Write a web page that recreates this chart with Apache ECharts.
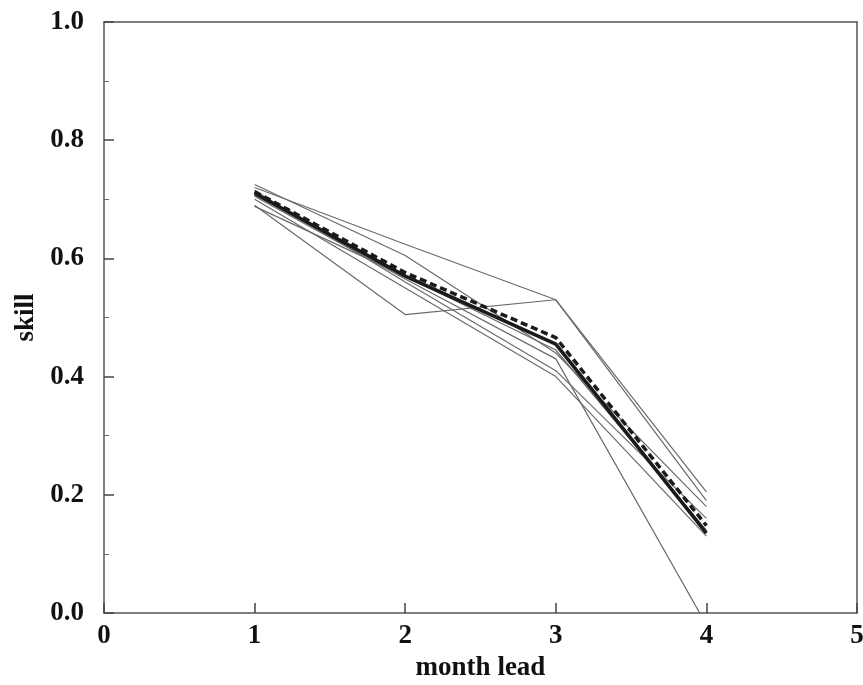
<!DOCTYPE html>
<html>
<head>
<meta charset="utf-8">
<script src="https://cdn.jsdelivr.net/npm/echarts@6/dist/echarts.min.js"></script>
<style>html,body{margin:0;padding:0;background:#fff}#c{width:863px;height:685px}</style>
</head>
<body>
<div id="c"></div>
<script>
var leads = [1, 2, 3, 4];
var xTicks = [0, 1, 2, 3, 4, 5];
var yTicks = [0.0, 0.2, 0.4, 0.6, 0.8, 1.0];
var member1 = [0.72, 0.624, 0.53, 0.205];
var member2 = [0.69, 0.505, 0.53, 0.19];
var member3 = [0.725, 0.605, 0.44, 0.18];
var member4 = [0.705, 0.565, 0.43, -0.02];
var member5 = [0.715, 0.56, 0.41, 0.16];
var member6 = [0.70, 0.55, 0.40, 0.13];
var member7 = [0.688, 0.57, 0.445, 0.14];
var ensembleMean = [0.71, 0.57, 0.455, 0.135];
var ensembleDashed = [0.713, 0.576, 0.466, 0.148];

var members = [member1, member2, member3, member4, member5, member6, member7];
function pts(arr){ return leads.map(function(x,i){ return [x, arr[i]]; }); }

var series = members.map(function(m){
  return {type:'line', data:pts(m), symbol:'none', animation:false,
    lineStyle:{color:'#6a6a6a', width:1.2}, z:2};
});
series.push({type:'line', data:pts(ensembleMean), symbol:'none', animation:false,
  lineStyle:{color:'#1a1a1a', width:3.5}, z:3});
series.push({type:'line', data:pts(ensembleDashed), symbol:'none', animation:false,
  lineStyle:{color:'#1a1a1a', width:3.5, type:[7,4]}, z:4});

var font = {fontFamily:'Liberation Serif, Times New Roman, serif', fontWeight:'bold', fontSize:27, color:'#111'};
var axLine = {show:true, onZero:false, lineStyle:{color:'#555', width:1.5}};

var chart = echarts.init(document.getElementById('c'));
chart.setOption({
  backgroundColor:'#fff',
  grid:{left:104, right:6, top:22, bottom:72, outerBoundsMode:'none', containLabel:false},
  xAxis:[{
    type:'value', min:xTicks[0], max:xTicks[xTicks.length-1], interval:1,
    name:'month lead', nameLocation:'middle', nameGap:42,
    nameTextStyle:font,
    axisLine:axLine, axisTick:{show:true, inside:true, length:10, lineStyle:{color:'#444', width:1.5}},
    axisLabel:Object.assign({margin:10}, font),
    splitLine:{show:false}
  },{
    type:'value', position:'top', min:0, max:5, interval:1,
    axisLine:axLine, axisTick:{show:false}, axisLabel:{show:false}, splitLine:{show:false}
  }],
  yAxis:[{
    type:'value', min:yTicks[0], max:yTicks[yTicks.length-1], interval:0.2,
    name:'skill', nameLocation:'middle', nameGap:64, nameRotate:90,
    nameTextStyle:font,
    axisLine:axLine,
    axisTick:{show:true, inside:true, length:10, lineStyle:{color:'#444', width:1.5}},
    minorTick:{show:true, splitNumber:2, length:5, lineStyle:{color:'#666'}},
    axisLabel:Object.assign({margin:20, formatter:function(v){return v.toFixed(1);}}, font),
    splitLine:{show:false}
  },{
    type:'value', position:'right', min:0, max:1, interval:0.2,
    axisLine:axLine, axisTick:{show:false}, axisLabel:{show:false}, splitLine:{show:false}
  }],
  series:series
});
</script>
</body>
</html>
